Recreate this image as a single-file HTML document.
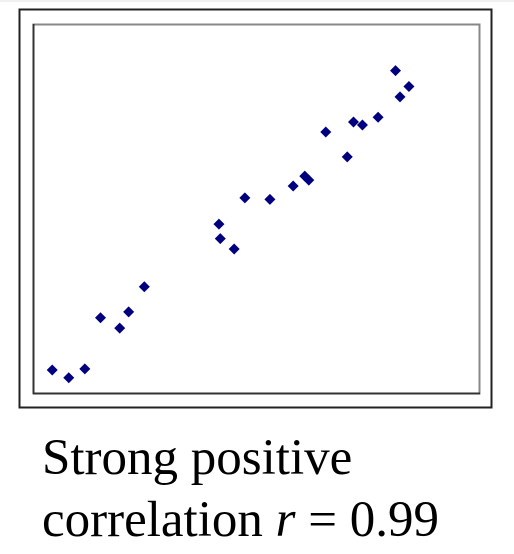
<!DOCTYPE html>
<html><head><meta charset="utf-8"><style>
body{margin:0;background:#fff;width:514px;height:554px;overflow:hidden;position:relative}
.cap{position:absolute;left:42px;font-family:"Liberation Serif",serif;font-size:51px;color:#000;white-space:nowrap;line-height:1}
</style></head><body>
<div style="position:absolute;left:0;top:0;width:514px;height:2px;background:#f0f0f0"></div>
<svg id="chart" width="514" height="420" style="position:absolute;left:0;top:0">
<rect x="19.5" y="9.5" width="472" height="398" fill="#fff" stroke="#222" stroke-width="2"/>
<rect x="33.5" y="24.5" width="446" height="369" fill="#fff" stroke="#888" stroke-width="2"/>
<line x1="33.5" y1="24" x2="33.5" y2="394" stroke="#333" stroke-width="2"/>
<line x1="33" y1="393.5" x2="480" y2="393.5" stroke="#333" stroke-width="2"/>
<g id="pts"></g>
</svg>
<div class="cap" style="top:433px">Strong positive</div>
<div class="cap" style="top:495px">correlation <i>r</i> = 0.99</div>
<script>
const xValues=[4.3,8.0,11.6,15.1,19.4,21.4,24.9,41.6,41.9,45.0,47.4,53.0,58.2,60.8,61.7,65.5,70.3,71.7,73.7,77.2,81.1,82.1,84.1];
const yValues=[6.5,4.4,6.8,20.6,17.8,22.2,29.0,45.9,42.0,39.2,53.0,52.6,56.2,58.9,57.8,70.8,64.1,73.5,72.7,74.8,87.4,80.3,83.1];
const xs=v=>33+v/100*447;
const ys=v=>394-v/100*370;
const g=document.getElementById('pts');
for(let i=0;i<xValues.length;i++){
  const cx=xs(xValues[i]),cy=ys(yValues[i]);
  const p=document.createElementNS('http://www.w3.org/2000/svg','polygon');
  p.setAttribute('points',`${cx},${cy-5.5} ${cx+5.5},${cy} ${cx},${cy+5.5} ${cx-5.5},${cy}`);
  p.setAttribute('fill','#00007f');
  
  
  g.appendChild(p);
}
</script>
</body></html>
